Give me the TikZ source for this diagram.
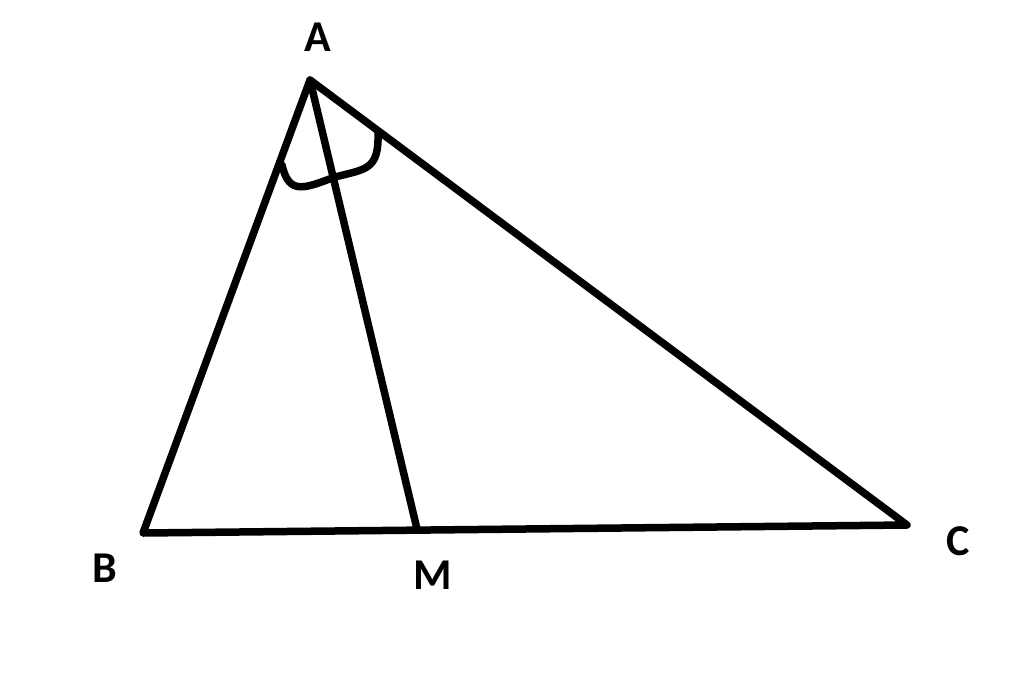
\documentclass[tikz,border=0pt]{standalone}
\usepackage{fontspec}
\setmainfont{Carlito}
\begin{document}
\begin{tikzpicture}[x=1pt,y=-1pt,
  lbl/.style={font=\fontsize{44}{50}\selectfont\bfseries, inner sep=0pt},
  edge/.style={line width=7.5pt, line cap=round, line join=round}]
\useasboundingbox[fill=white] (0,0) rectangle (1024,680);
\coordinate (A) at (310,80);
\coordinate (B) at (143,533);
\coordinate (C) at (907,525);
\coordinate (M) at (417,529);
\coordinate (P) at (282,165);
\coordinate (Q) at (378,133);
\draw[edge] (B) -- (C) -- (A) -- cycle;
\draw[edge] (A) -- (M);
\draw[edge] (P) .. controls (289,196) and (305,188) .. (335,177) .. controls (366,169) and (379,170) .. (Q);
\node[lbl] (la) at (318,37) {A};
\node[lbl] (lb) at (105,568) {B};
\node[lbl] (lm) at (433,575) {M};
\node[lbl] (lc) at (958,541) {C};
\end{tikzpicture}
\end{document}
